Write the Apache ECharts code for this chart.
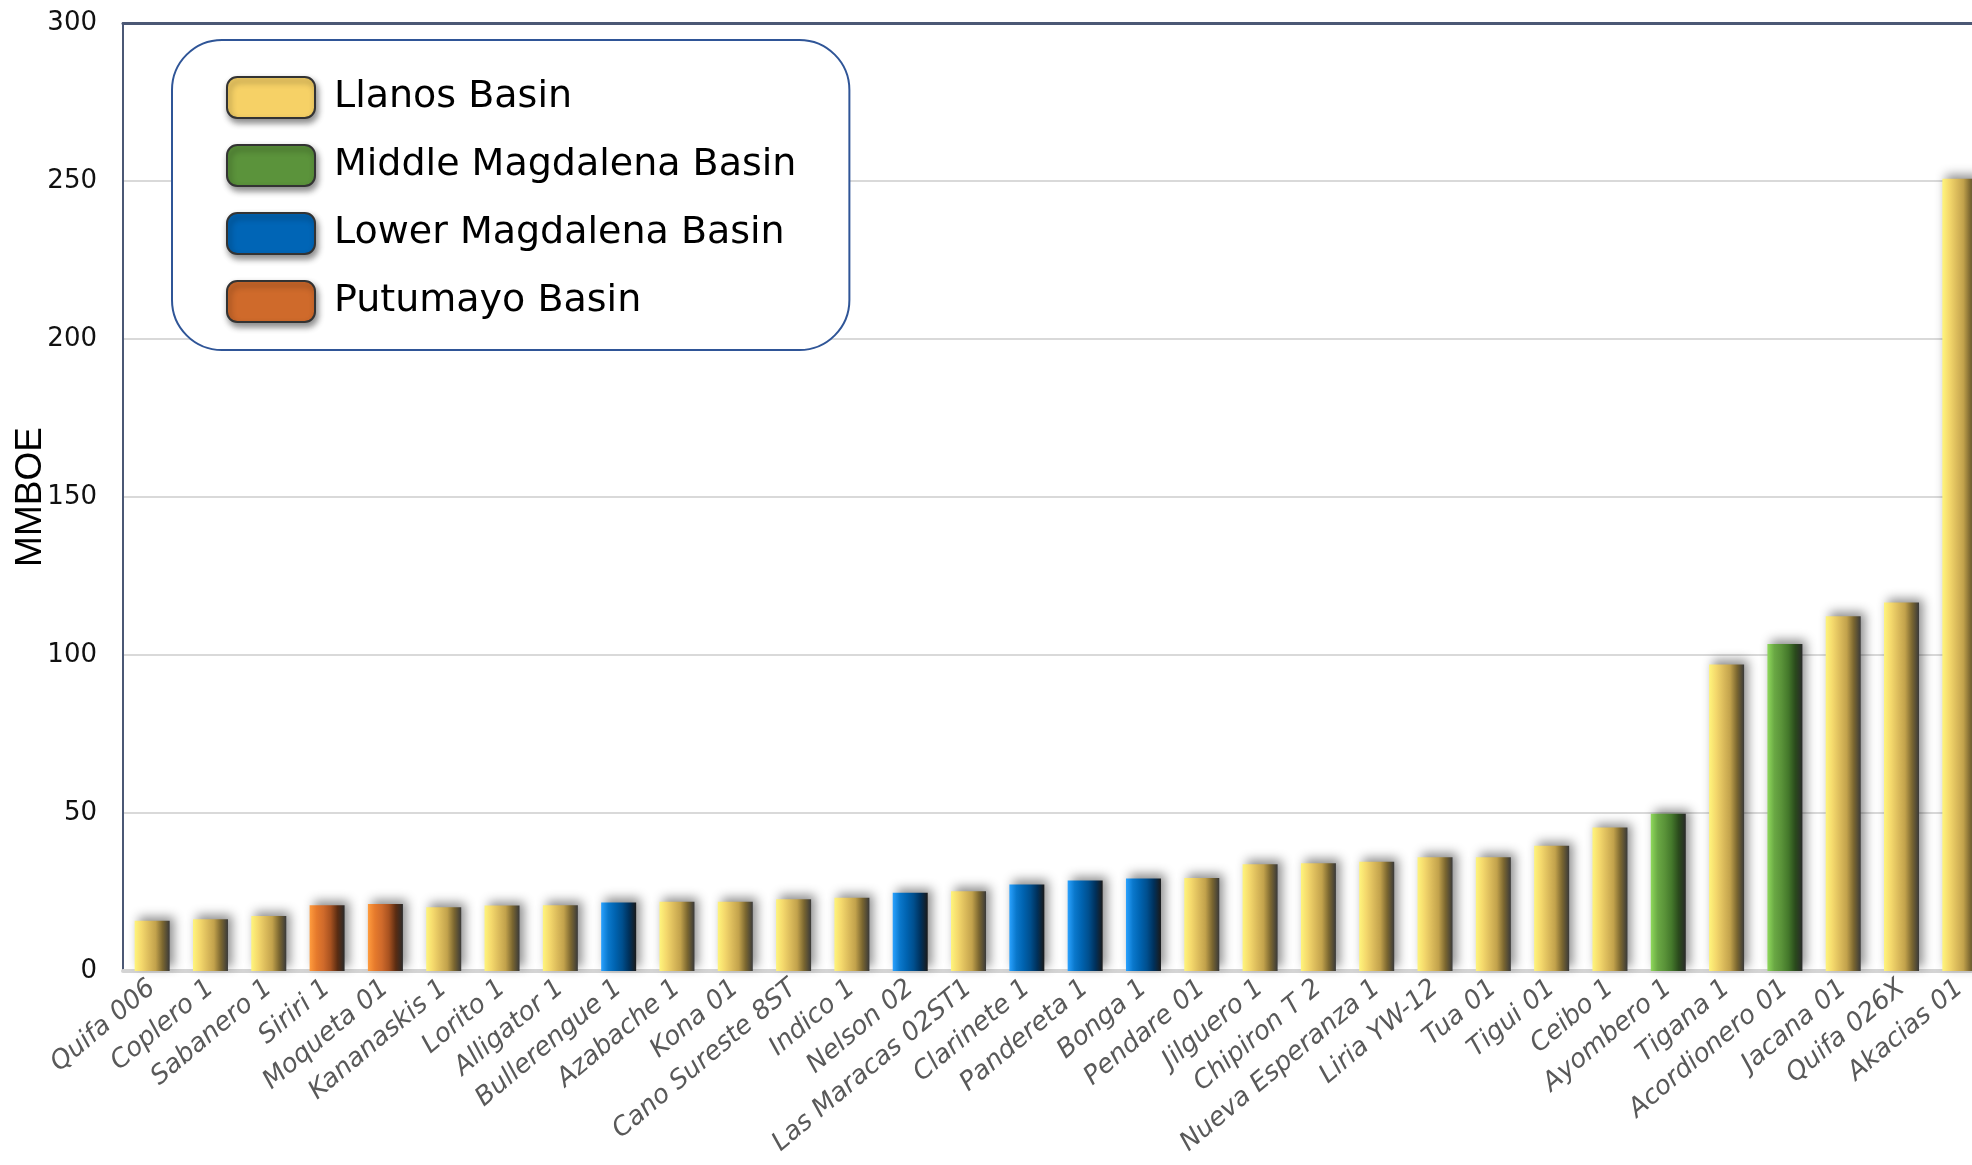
<!DOCTYPE html>
<html>
<head>
<meta charset="utf-8">
<script src="https://cdn.jsdelivr.net/npm/echarts@6/dist/echarts.min.js"></script>
<style>
html,body{margin:0;padding:0;background:#fff;}
#chart{width:1972px;height:1165px;}
</style>
</head>
<body>
<div id="chart"></div>
<script>
// ---- data ----
const categories = ["Quifa 006","Coplero 1","Sabanero 1","Siriri 1","Moqueta 01","Kananaskis 1","Lorito 1","Alligator 1","Bullerengue 1","Azabache 1","Kona 01","Cano Sureste 8ST","Indico 1","Nelson 02","Las Maracas 02ST1","Clarinete 1","Pandereta 1","Bonga 1","Pendare 01","Jilguero 1","Chipiron T 2","Nueva Esperanza 1","Liria YW-12","Tua 01","Tigui 01","Ceibo 1","Ayombero 1","Tigana 1","Acordionero 01","Jacana 01","Quifa 026X","Akacias 01"];
const values = [15.9,16.4,17.4,20.8,21.2,20.2,20.7,20.8,21.7,21.9,21.9,22.7,23.2,24.8,25.2,27.4,28.6,29.3,29.4,33.8,34.1,34.6,36.0,36.0,39.6,45.4,49.8,97.0,103.5,112.3,116.6,250.7];
const basins = ["Llanos Basin","Llanos Basin","Llanos Basin","Putumayo Basin","Putumayo Basin","Llanos Basin","Llanos Basin","Llanos Basin","Lower Magdalena Basin","Llanos Basin","Llanos Basin","Llanos Basin","Llanos Basin","Lower Magdalena Basin","Llanos Basin","Lower Magdalena Basin","Lower Magdalena Basin","Lower Magdalena Basin","Llanos Basin","Llanos Basin","Llanos Basin","Llanos Basin","Llanos Basin","Llanos Basin","Llanos Basin","Llanos Basin","Middle Magdalena Basin","Llanos Basin","Middle Magdalena Basin","Llanos Basin","Llanos Basin","Llanos Basin"];
const basinNames = ["Llanos Basin","Middle Magdalena Basin","Lower Magdalena Basin","Putumayo Basin"];
const yTicks = [0,50,100,150,200,250,300];
const yAxisTitle = "MMBOE";

// ---- styles ----
const swatchColors = {
  "Llanos Basin":"#f6d166",
  "Middle Magdalena Basin":"#5b933b",
  "Lower Magdalena Basin":"#0065b6",
  "Putumayo Basin":"#cf6a2b"
};
const barStops = {
  "Llanos Basin":["#fff57c","#f4d86c","#dcbc5c","#c2a24c","#7a6630","#3a3a3a"],
  "Middle Magdalena Basin":["#8fd95c","#6aa844","#5a9339","#44782b","#2a4a1c","#2a2a2a"],
  "Lower Magdalena Basin":["#2aa2ff","#0a78cc","#0063b0","#004f8e","#00305a","#1a1a1a"],
  "Putumayo Basin":["#ff9c3e","#e67a2c","#cf6a2b","#a85220","#5a2c12","#2a2a2a"]
};
function grad(stops){
  const n = stops.length;
  return {type:'linear',x:0,y:0,x2:1,y2:0,colorStops:stops.map((c,i)=>({offset:i/(n-1),color:c}))};
}
const FONT = "DejaVu Sans";

const series = basinNames.map(b => ({
  name: b,
  type: 'bar',
  stack: 'all',
  barWidth: 35,
  xAxisIndex: 0,
  data: values.map((v,i) => basins[i] === b ? v : '-'),
  itemStyle: {
    color: grad(barStops[b]),
    shadowBlur: 10,
    shadowColor: 'rgba(0,0,0,0.45)',
    shadowOffsetX: 4,
    shadowOffsetY: -4
  },
  emphasis: {disabled: true}
}));

const chart = echarts.init(document.getElementById('chart'), null, {renderer:'canvas'});
chart.setOption({
  animation: false,
  backgroundColor: '#ffffff',
  grid: {left: 123, top: 23, right: -17, bottom: 194, containLabel: false, outerBoundsMode: 'none'},
  legend: {
    orient: 'vertical',
    left: 172, top: 40,
    padding: [36, 53, 27, 54],
    backgroundColor: '#ffffff',
    borderColor: '#2f5597',
    borderWidth: 2,
    borderRadius: 50,
    icon: 'roundRect',
    itemWidth: 88,
    itemHeight: 41,
    itemGap: 25,
    selectedMode: false,
    textStyle: {fontFamily: FONT, fontSize: 38, color: '#000', lineHeight: 41, padding: [0,0,0,14]},
    data: basinNames.map(b => ({
      name: b,
      itemStyle: {color: swatchColors[b], borderColor: '#333333', borderWidth: 2, shadowBlur: 6, shadowColor: 'rgba(0,0,0,0.45)', shadowOffsetX: 2, shadowOffsetY: 4}
    }))
  },
  xAxis: [{
    type: 'category',
    data: categories,
    position: 'bottom',
    axisLine: {lineStyle: {color: '#d4d4d4', width: 4}},
    axisTick: {show: false},
    axisLabel: {interval: 0, rotate: 40, margin: 14, fontFamily: FONT, fontStyle: 'italic', fontSize: 26, color: '#595959'}
  },{
    type: 'category',
    data: categories,
    position: 'top',
    axisLine: {lineStyle: {color: '#4b5875', width: 3}},
    axisTick: {show: false},
    axisLabel: {show: false}
  }],
  yAxis: {
    type: 'value',
    min: yTicks[0], max: yTicks[yTicks.length-1], interval: 50,
    name: yAxisTitle,
    nameLocation: 'middle',
    nameGap: 74,
    nameMoveOverlap: false,
    nameRotate: 90,
    nameTextStyle: {fontFamily: "Liberation Sans", fontSize: 37, color: '#000'},
    axisLine: {show: true, lineStyle: {color: '#4b5875', width: 2}},
    axisTick: {show: false},
    axisLabel: {margin: 26, fontFamily: FONT, fontSize: 26, color: '#111'},
    splitLine: {lineStyle: {color: '#d9d9d9', width: 2}}
  },
  series: series
});
</script>
</body>
</html>
